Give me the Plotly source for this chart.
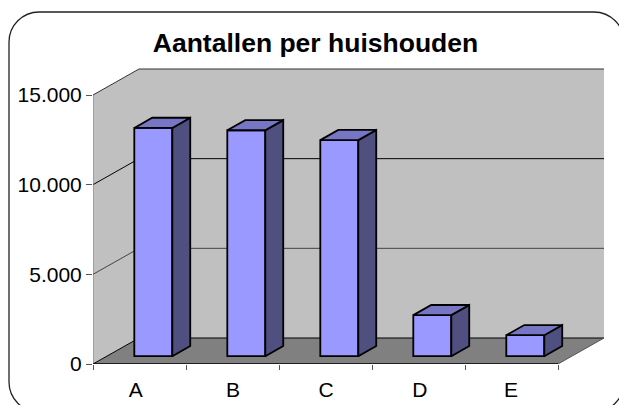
import plotly.graph_objects as go

# data
categories = ["A", "B", "C", "D", "E"]
values = [12730, 12600, 12050, 2290, 1170]
y_ticks = [0, 5000, 10000, 15000]
title = "Aantallen per huishouden"

# figure geometry (pixels)
W, H = 619, 405
L, R, T, B = 93, 604, 66, 364
CAT_PX = 93.0
VAL_PX = 269 / 15000
DX = 46 / CAT_PX         # room depth in category units
DY = 26 / VAL_PX         # room depth in value units
X_MAX = (R - L) / CAT_PX
Y_MAX = (B - T) / VAL_PX
N = len(categories)
V_MAX = max(y_ticks)

BAR_W = 38 / CAT_PX
BAR_D0 = 0.30            # depth where a bar starts
BAR_D = 0.39             # depth of a bar
LABEL_NUDGE = [-0.04, 0.005, 0.005, 0.015, -0.005]


def poly(pts):
    return "M " + " L ".join(f"{x},{y}" for x, y in pts) + " Z"


def px_x(p):
    return (p - L) / (R - L)


def px_y(p):
    return 1 - (p - T) / (B - T)


shapes = []
# walls and floor
shapes.append(dict(type="path", path=poly([(0, 0), (DX, DY), (DX, V_MAX + DY), (0, V_MAX)]),
                   fillcolor="#C0C0C0", line=dict(width=0), layer="below"))
shapes.append(dict(type="path", path=poly([(DX, DY), (N + DX, DY), (N + DX, V_MAX + DY), (DX, V_MAX + DY)]),
                   fillcolor="#C0C0C0", line=dict(width=0), layer="below"))
shapes.append(dict(type="path", path=poly([(0, 0), (N, 0), (N + DX, DY), (DX, DY)]),
                   fillcolor="#808080", line=dict(width=0), layer="below"))


def seg(x0, y0, x1, y1, color="#000000", width=1):
    shapes.append(dict(type="line", x0=x0, y0=y0, x1=x1, y1=y1,
                       line=dict(color=color, width=width), layer="below"))


# gridlines over both walls
for v in y_ticks:
    col = {0: "#000000", 5000: "#444444", 10000: "#000000", 15000: "#333333"}[v]
    seg(0, v, DX, v + DY, col)
    seg(DX, v + DY, N + DX, v + DY, col)
seg(0, 0, 0, V_MAX, "#808080", 1)                # value axis
seg(0, 0, N, 0, "#000000", 1.3)                  # category axis
seg(N, 0, N + DX, DY, "#555555", 1)              # floor edge

# outer rounded frame (drawn in paper coordinates)
fx0, fx1, fy0, fy1, r = 9, 624, 12, 412, 30
k = r * 0.45
pts = [
    ("M", (fx0 + r, fy0)), ("L", (fx1 - r, fy0)),
    ("C", (fx1 - k, fy0), (fx1, fy0 + k), (fx1, fy0 + r)),
    ("L", (fx1, fy1 - r)),
    ("C", (fx1, fy1 - k), (fx1 - k, fy1), (fx1 - r, fy1)),
    ("L", (fx0 + r, fy1)),
    ("C", (fx0 + k, fy1), (fx0, fy1 - k), (fx0, fy1 - r)),
    ("L", (fx0, fy0 + r)),
    ("C", (fx0, fy0 + k), (fx0 + k, fy0), (fx0 + r, fy0)),
]
frame = " ".join(c[0] + " " + " ".join(f"{px_x(a):.5f},{px_y(b):.5f}" for a, b in c[1:]) for c in pts) + " Z"
shapes.insert(0, dict(type="path", xref="paper", yref="paper", path=frame,
                      line=dict(color="#222222", width=1.3), fillcolor="#FFFFFF", layer="below"))
for s in shapes[1:]:
    s["xref"] = "x"
    s["yref"] = "y"

# bars
base = BAR_D0 * DY
shift = BAR_D0 * DX
centers = [i + 0.5 + shift for i in range(N)]
dx, dy = BAR_D * DX, BAR_D * DY
side_x, side_y, top_x, top_y = [], [], [], []
for c, v in zip(centers, values):
    x1 = c + BAR_W / 2
    x0 = c - BAR_W / 2
    side_x += [x1, x1, x1 + dx, x1 + dx, x1, None]
    side_y += [base, base + v, base + v + dy, base + dy, base, None]
    top_x += [x0, x1, x1 + dx, x0 + dx, x0, None]
    top_y += [base + v, base + v, base + v + dy, base + v + dy, base + v, None]

edge = dict(color="#000000", width=1.8)
fig = go.Figure()
fig.add_trace(go.Bar(x=centers, y=values, base=base, width=BAR_W,
                     marker=dict(color="#9999FF", line=edge), hoverinfo="skip"))
fig.add_trace(go.Scatter(x=side_x, y=side_y, mode="lines", fill="toself", fillcolor="#4F4F80",
                         line=edge, hoverinfo="skip"))
fig.add_trace(go.Scatter(x=top_x, y=top_y, mode="lines", fill="toself", fillcolor="#7676C4",
                         line=edge, hoverinfo="skip"))

FONT = "Liberation Sans, Arial, sans-serif"
fig.update_layout(
    width=W, height=H, autosize=False, showlegend=False,
    margin=dict(l=L, r=W - R, t=T, b=H - B, pad=0),
    paper_bgcolor="#FFFFFF", plot_bgcolor="rgba(0,0,0,0)",
    separators=",.",
    shapes=shapes,
    font=dict(family=FONT, size=21, color="#000000"),
    title=dict(text=f"<b>{title}</b>", x=315.5 / W, xanchor="center", y=1 - 43 / H, yanchor="middle",
               font=dict(family=FONT, size=26.5, color="#000000")),
    xaxis=dict(range=[0, X_MAX], tickmode="array",
               tickvals=[i + 0.5 + LABEL_NUDGE[i] for i in range(N)],
               ticktext=categories, ticks="", showgrid=False, zeroline=False, showline=False,
               automargin=False, ticklabelstandoff=11,
               minor=dict(tickmode="array", tickvals=list(range(N + 1)), ticks="outside", ticklen=5,
                          tickcolor="#555555", tickwidth=1, showgrid=False)),
    yaxis=dict(range=[0, Y_MAX], tickmode="array", tickvals=y_ticks, tickformat=",d",
               ticks="outside", ticklen=6, tickcolor="#555555", tickwidth=1, automargin=False,
               showgrid=False, zeroline=False, showline=False),
)
fig.write_html("out.html", config=dict(displayModeBar=False), post_script="document.body.style.margin='0';")
